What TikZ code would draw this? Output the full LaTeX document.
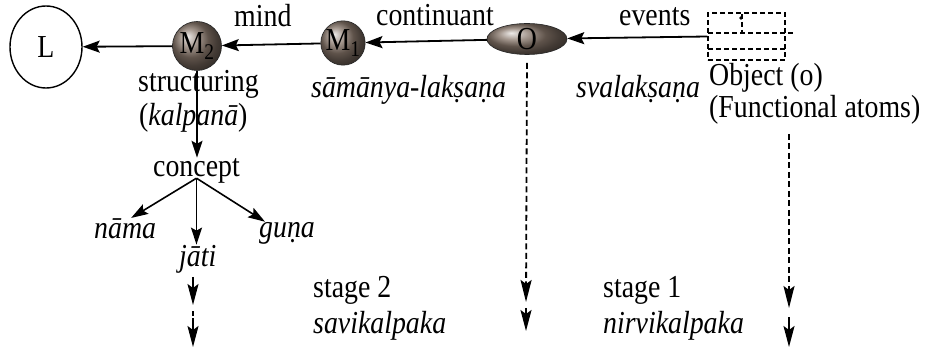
\documentclass[tikz,border=0pt]{standalone}
\usepackage{fontspec}
\setmainfont{Liberation Serif}[FakeStretch=0.87]
\usetikzlibrary{arrows.meta,calc,shapes.geometric}
\definecolor{ballc}{RGB}{135,118,106}
\newcommand\bigfont{\fontsize{32}{35}\selectfont}
\tikzset{
  lbl/.style={font=\bigfont, inner sep=1pt, anchor=base west},
  arr/.style={line width=1.8pt, -{Stealth[length=17pt,width=12pt,inset=3pt]}},
  darr/.style={line width=1.8pt, dash pattern=on 6pt off 3.5pt, -{Stealth[length=22pt,width=11pt,inset=4pt]}},
  sarr/.style={line width=1.8pt, -{Stealth[length=21pt,width=11pt,inset=4pt]}},
  carr/.style={line width=1.6pt, -{Stealth[length=17pt,width=11pt,inset=3pt]}},
  sphere/.style={circle, shading=ball, ball color=ballc, draw=black!85, line width=0.6pt, inner sep=0pt, font=\bigfont},
  boxdash/.style={line width=1.4pt, dash pattern=on 5pt off 3pt},
}
\begin{document}
\begin{tikzpicture}[x=1pt,y=-1pt]
\useasboundingbox[fill=white] (0,0) rectangle (936,352);

% main nodes
\node[draw, ellipse, minimum width=72pt, minimum height=82pt, line width=1.4pt, font=\bigfont] (L) at (46,47) {L};
\node[sphere, minimum size=49pt] (M2) at (197,46) {M\textsubscript{2}};
\node[sphere, minimum size=42pt] (M1) at (343,43) {M\textsubscript{1}};
\node[ellipse, shading=ball, ball color=ballc, draw=black!85, line width=0.6pt, inner sep=0pt, minimum width=80pt, minimum height=31pt, font=\bigfont] (O) at (527,39) {O};
\node[rectangle, boxdash, draw, minimum width=77pt, minimum height=47pt, inner sep=0pt] (box) at (746.5,36.5) {};
\draw[boxdash] (708,33) -- (793,33);
\draw[boxdash] (708,49) -- (785,49);
\draw[boxdash] (742,14) -- (742,33);
\fill (741,18) circle (1.8pt);

% horizontal arrows
\draw[arr] (M2) -- (L);
\draw[arr] (M1) -- (M2);
\draw[arr] (O) -- (M1);
\draw[arr] (box.west) -- (O);

% labels
\node[lbl] (mind) at (233,27) {mind};
\node[lbl] (cont) at (375,26) {continuant};
\node[lbl] (ev) at (618,26) {events};
\node[lbl] (struct) at (137,92) {structuring};
\node[lbl] (kalp) at (138,126) {(\textit{kalpanā})};
\node[lbl] (saml) at (310,98) {\textit{sāmānya-lakṣaṇa}};
\node[lbl] (sval) at (575,98) {\textit{svalakṣaṇa}};
\node[lbl] (obj) at (708,86) {Object (o)};
\node[lbl] (func) at (708,118) {(Functional atoms)};
\node[lbl, text depth=0pt] (concept) at (152,177) {concept};
\node[lbl] (nama) at (93,239) {\textit{nāma}};
\node[lbl] (jati) at (178,267) {\textit{jāti}};
\node[lbl] (guna) at (258,238) {\textit{guṇa}};
\node[lbl] (st2) at (312,298) {stage 2};
\node[lbl] (sav) at (312,333) {\textit{savikalpaka}};
\node[lbl] (st1) at (602,298) {stage 1};
\node[lbl] (nir) at (602,333) {\textit{nirvikalpaka}};

% structuring tree
\draw[carr] (M2.south) -- (M2.south |- concept.north);
\draw[carr] (concept.south) -- ($(nama.north)+(6,0)$);
\draw[carr] (concept.south) -- (concept.south |- jati.north);
\draw[carr] (concept.south) -- ($(guna.north west)+(7,0)$);

% jati downward arrows
\coordinate (j1) at (193,277);
\coordinate (j2) at (193,305);
\coordinate (j3) at (193,311);
\coordinate (j4) at (193,316);
\coordinate (j5) at (193,318);
\coordinate (j6) at (193,347);
\draw[sarr] (j1) -- (j2);
\draw[line width=1.8pt] (j3) -- (j4);
\draw[sarr] (j5) -- (j6);

% O downward arrows
\coordinate (o1) at (526,302);
\coordinate (o2) at (526,308);
\coordinate (o3) at (526,331);
\draw[darr, shorten <=8pt] (O.south) -- (o1);
\draw[sarr] (o2) -- (o3);

% object downward arrows
\coordinate (r0) at (789,134);
\coordinate (r1) at (789,308);
\coordinate (r2) at (789,317);
\coordinate (r3) at (789,347);
\draw[darr] (r0) -- (r1);
\draw[sarr] (r2) -- (r3);
\end{tikzpicture}
\end{document}
